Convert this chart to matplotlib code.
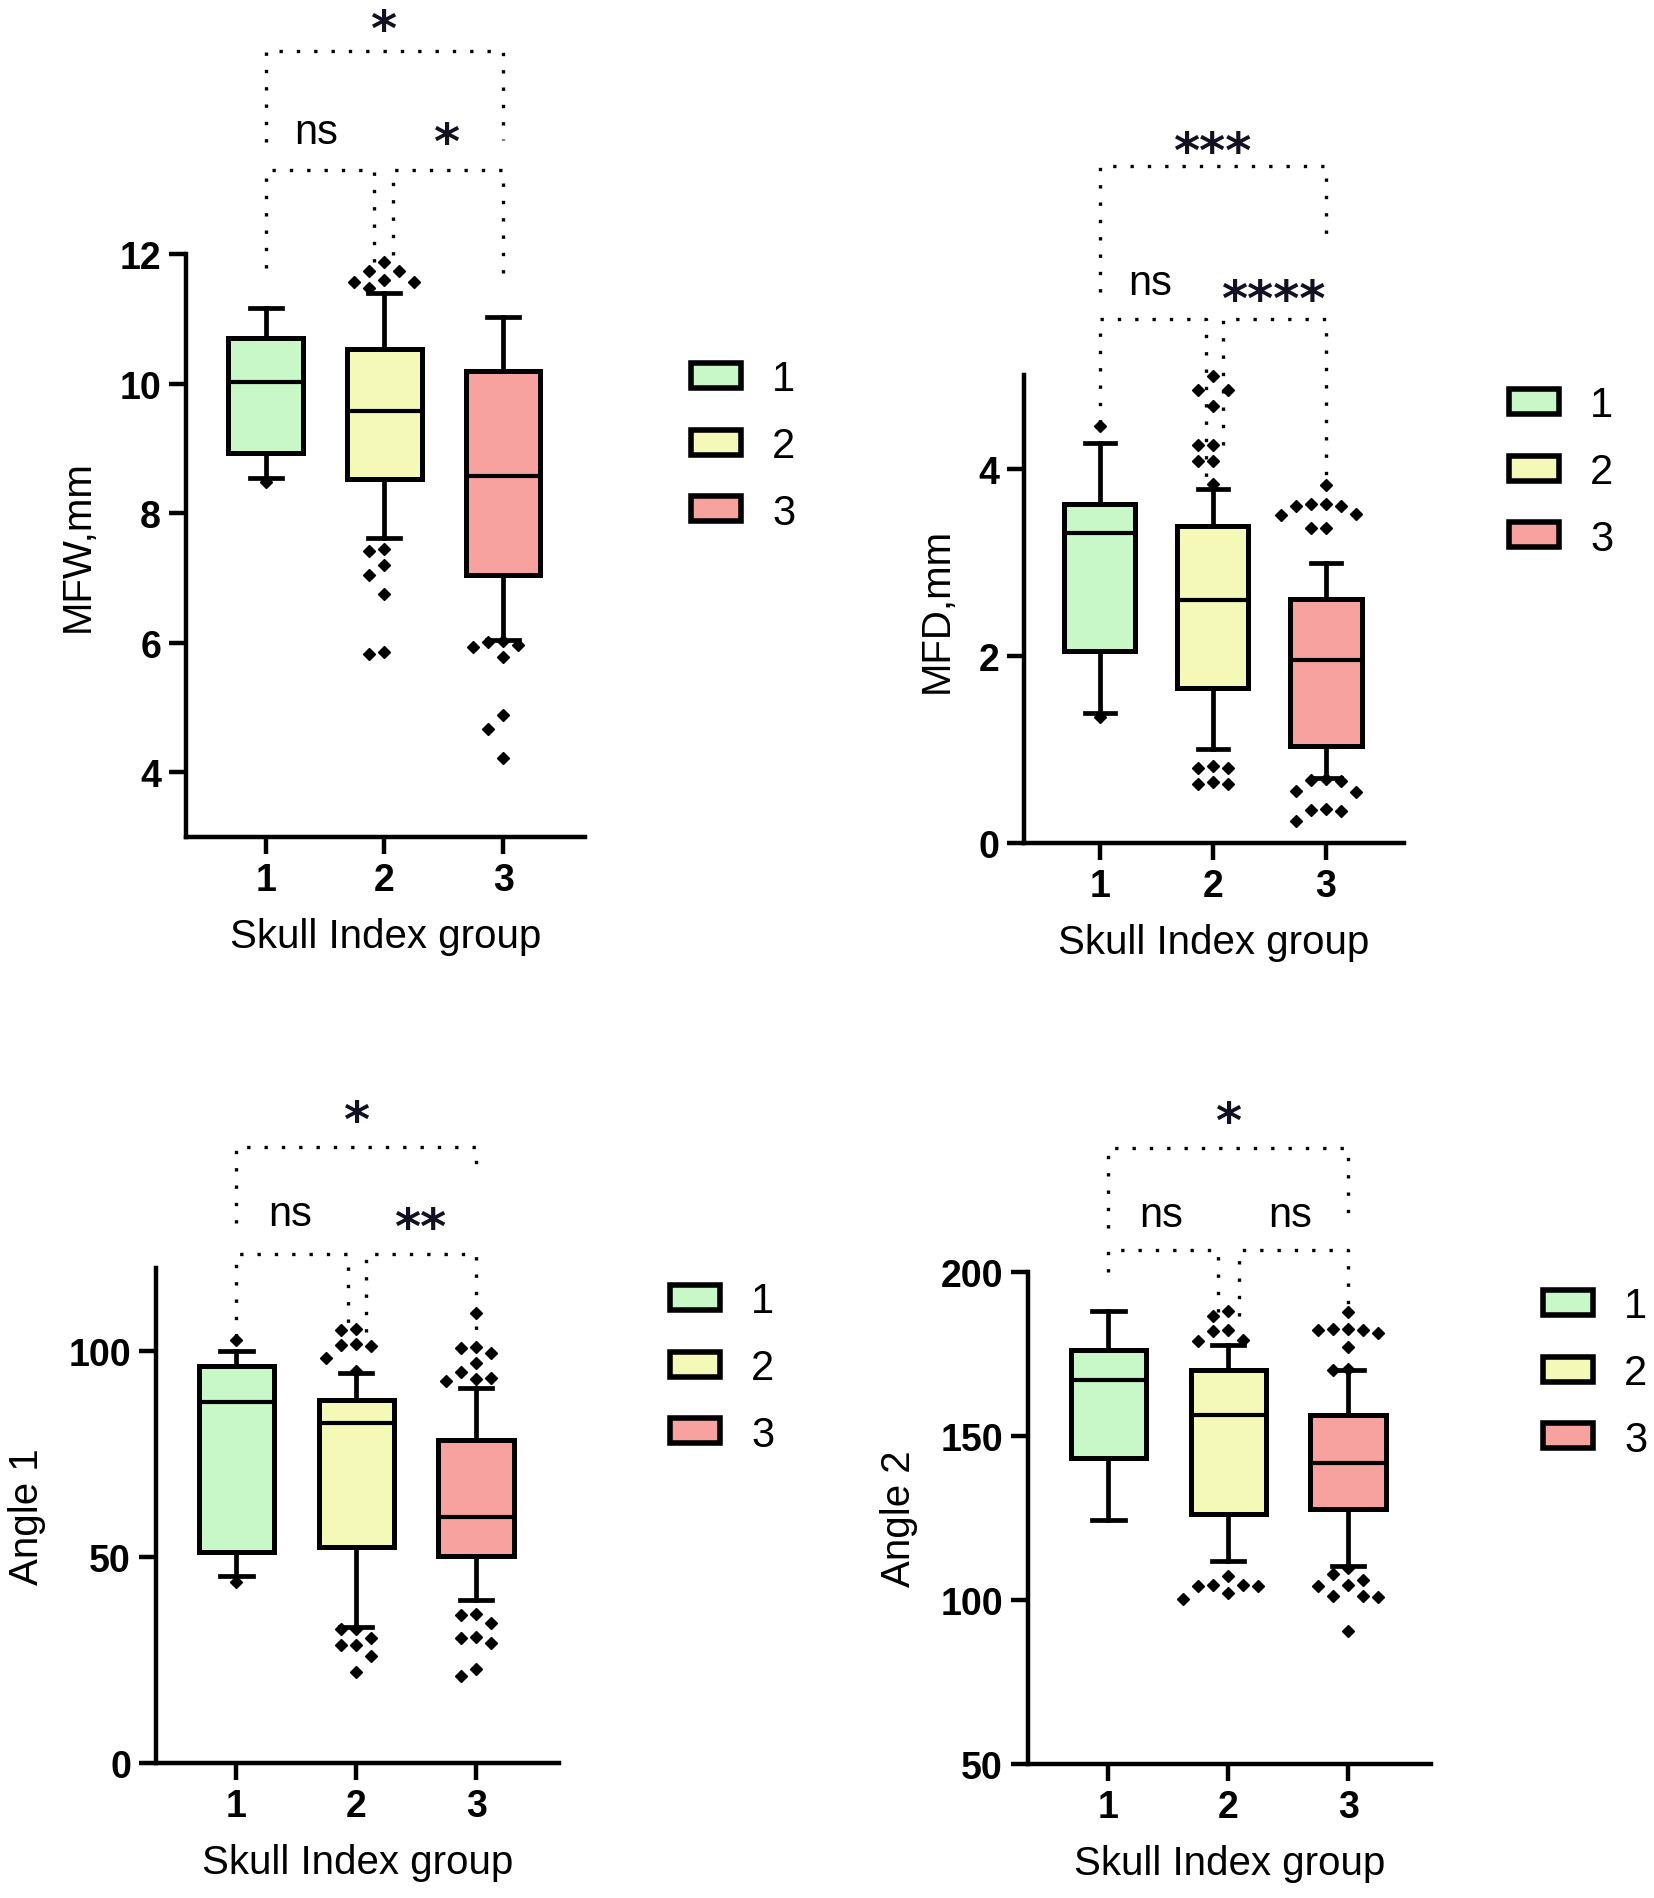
import matplotlib
matplotlib.use("Agg")
import matplotlib.pyplot as plt
from matplotlib.patches import Patch

plt.rcParams['font.family'] = ['Liberation Sans', 'DejaVu Sans']

groups = ["1", "2", "3"]
fills = ["#C8F7C8", "#F4F9B8", "#F8A2A0"]

# MFW panel
mfw_whislo = [8.54, 7.61, 6.04]
mfw_q1 = [8.93, 8.52, 7.05]
mfw_med = [10.03, 9.57, 8.57]
mfw_q3 = [10.71, 10.53, 10.2]
mfw_whishi = [11.16, 11.40, 11.03]
mfw_fliers = [
    [8.48],
    [11.48, 11.57, 11.57, 11.6, 11.73, 11.73, 11.87, 7.45, 7.42, 7.2, 7.05, 6.75, 5.85, 5.82],
    [6.03, 6.01, 5.97, 5.93, 5.78, 4.88, 4.66, 4.22],
]

# MFD panel
mfd_whislo = [1.39, 1.0, 0.69]
mfd_q1 = [2.05, 1.66, 1.04]
mfd_med = [3.31, 2.60, 1.96]
mfd_q3 = [3.62, 3.39, 2.61]
mfd_whishi = [4.27, 3.78, 2.99]
mfd_fliers = [
    [4.45, 1.35],
    [4.99, 4.84, 4.84, 4.67, 4.25, 4.25, 4.08, 4.08, 3.84, 0.82, 0.80, 0.80, 0.65, 0.63, 0.63],
    [3.82, 3.62, 3.62, 3.6, 3.6, 3.52, 3.5, 3.37, 3.37, 0.68, 0.67, 0.66, 0.56, 0.55, 0.36, 0.35, 0.34, 0.23],
]

# Angle 1 panel
a1_whislo = [45.4, 33.0, 39.6]
a1_q1 = [51.1, 52.4, 50.1]
a1_med = [87.5, 82.4, 59.7]
a1_q3 = [96.3, 88.1, 78.2]
a1_whishi = [100.0, 94.5, 90.8]
a1_fliers = [
    [102.6, 43.9],
    [105.3, 105.0, 101.5, 101.3, 101.0, 98.3, 95.0, 32.6, 32.4, 30.4, 28.7, 28.5, 26.0, 22.1],
    [109.2, 100.9, 100.5, 99.3, 97.0, 94.7, 93.4, 93.2, 92.7, 36.2, 35.9, 34.0, 30.6, 30.4, 29.1, 22.7, 21.1],
]

# Angle 2 panel
a2_whislo = [124.3, 112.0, 110.3]
a2_q1 = [143.2, 126.1, 127.7]
a2_med = [167.1, 156.5, 141.9]
a2_q3 = [176.2, 170.1, 156.5]
a2_whishi = [188.0, 177.6, 170.1]
a2_fliers = [
    [],
    [188.0, 186.7, 182.2, 182.0, 179.2, 179.0, 107.3, 104.5, 104.5, 104.4, 104.3, 102.0, 100.3],
    [187.9, 182.7, 182.5, 182.4, 182.2, 181.4, 177.1, 170.3, 170.2, 109.8, 107.8, 106.1, 104.5, 104.4,
     101.2, 101.1, 101.0, 90.4],
]

W, H = 1654, 1899


def swarm(vals, pxx, pxy, diam=15.0):
    # simple beeswarm: put each point at the nearest free horizontal slot
    placed = []
    offs = [0.0] * len(vals)
    order = sorted(range(len(vals)), key=lambda i: -vals[i])
    for i in order:
        y = vals[i] * pxy
        k = 0
        while True:
            cand = [0] if k == 0 else [-k, k]
            done = False
            for c in cand:
                x = c * diam
                if all((x - px) ** 2 + (y - py) ** 2 >= diam ** 2 for px, py in placed):
                    placed.append((x, y))
                    offs[i] = x / pxx
                    done = True
                    break
            if done:
                break
            k += 1
    return offs


def panel(rect_px, ylab, ylim, yticks, wlo, q1, med, q3, whi, fliers, brackets, labels, leg_px):
    l, t, r, b = rect_px
    ax = fig.add_axes([l / W, 1 - b / H, (r - l) / W, (b - t) / H])
    xlim = (0.33, 3.69)
    ax.set_xlim(*xlim)
    ax.set_ylim(*ylim)
    stats = []
    for i in range(3):
        stats.append(dict(med=med[i], q1=q1[i], q3=q3[i], whislo=wlo[i], whishi=whi[i], fliers=[]))
    bp = ax.bxp(stats, positions=[1, 2, 3], widths=0.63, capwidths=0.27, patch_artist=True,
                showfliers=False,
                boxprops=dict(linewidth=3.6, edgecolor='black'),
                whiskerprops=dict(linewidth=3.4, color='black'),
                capprops=dict(linewidth=3.4, color='black'),
                medianprops=dict(linewidth=3.0, color='black'))
    for patch, c in zip(bp['boxes'], fills):
        patch.set_facecolor(c)
    pxx = (r - l) / (xlim[1] - xlim[0])
    pxy = (b - t) / (ylim[1] - ylim[0])
    for i, fl in enumerate(fliers):
        if not fl:
            continue
        offs = swarm(fl, pxx, pxy)
        ax.plot([i + 1 + o for o in offs], fl, linestyle='none', marker='D', markersize=6.5,
                color='black', clip_on=False, zorder=4)

    for x1, x2, y, yl, yr in brackets:
        ax.plot([x1, x1, x2, x2], [yl, y, y, yr], color='black', linewidth=2.4,
                linestyle=(0, (1, 4.2)), clip_on=False)
    for txt, x, y in labels:
        if 'ns' in txt:
            ax.text(x, y, txt, ha='center', va='center', fontsize=30)
        else:
            ax.text(x, y, txt, ha='center', va='center', fontsize=36, fontweight='bold',
                    family='DejaVu Sans', color='#111122')

    ax.spines['top'].set_visible(False)
    ax.spines['right'].set_visible(False)
    ax.spines['left'].set_linewidth(3.2)
    ax.spines['bottom'].set_linewidth(3.2)
    ax.set_xticks([1, 2, 3])
    ax.set_xticklabels(groups)
    ax.set_yticks(yticks)
    ax.tick_params(axis='both', length=12, width=3.2, labelsize=27, pad=6)
    for lab in ax.get_xticklabels() + ax.get_yticklabels():
        lab.set_fontweight('bold')
    ax.set_ylabel(ylab, fontsize=29, labelpad=16)
    ax.set_xlabel("Skull Index group", fontsize=29, labelpad=14)

    handles = [Patch(facecolor=c, edgecolor='black', linewidth=4) for c in fills]
    lx, ly = leg_px
    ax.legend(handles, groups, loc='center left', bbox_to_anchor=(lx / W, 1 - ly / H),
              bbox_transform=fig.transFigure, frameon=False, fontsize=30,
              handlelength=1.2, handleheight=0.55, handletextpad=0.75, labelspacing=0.64,
              borderpad=0, borderaxespad=0)
    return ax


fig = plt.figure(figsize=(W / 100, H / 100), dpi=100)

panel((186, 255, 585, 838), "MFW,mm", (3, 12), [4, 6, 8, 10, 12],
      mfw_whislo, mfw_q1, mfw_med, mfw_q3, mfw_whishi, mfw_fliers,
      [(1.0, 3.0, 15.13, 13.73, 13.76), (1.0, 1.91, 13.29, 11.79, 11.79), (2.07, 3.0, 13.29, 11.98, 11.65)],
      [("*", 1.99, 15.45), ("ns", 1.43, 13.89), ("*", 2.52, 13.7)],
      (691, 447))

panel((1024, 376, 1404, 844), "MFD,mm", (0, 5), [0, 2, 4],
      mfd_whislo, mfd_q1, mfd_med, mfd_q3, mfd_whishi, mfd_fliers,
      [(1.0, 3.0, 7.23, 5.89, 6.49), (1.0, 1.94, 5.60, 4.49, 3.9), (2.09, 3.0, 5.60, 4.25, 3.9)],
      [("***", 1.99, 7.37), ("ns", 1.45, 5.98), ("****", 2.53, 5.79)],
      (1509, 473))

panel((156, 1269, 559, 1764), "Angle 1", (0, 120), [0, 50, 100],
      a1_whislo, a1_q1, a1_med, a1_q3, a1_whishi, a1_fliers,
      [(1.0, 3.0, 149.3, 131, 142.3), (1.0, 1.93, 123.4, 103.3, 106), (2.08, 3.0, 123.4, 104.6, 99.3)],
      [("*", 2.0, 155.5), ("ns", 1.45, 133), ("**", 2.53, 129.5)],
      (670, 1369))

panel((1028, 1273, 1431, 1765), "Angle 2", (50, 200), [50, 100, 150, 200],
      a2_whislo, a2_q1, a2_med, a2_q3, a2_whishi, a2_fliers,
      [(1.0, 3.0, 237.9, 213.3, 215), (1.0, 1.91, 206.6, 200, 186.7), (2.09, 3.0, 206.6, 186.7, 186.7)],
      [("*", 2.0, 245.5), ("ns", 1.44, 217.4), ("ns", 2.52, 217.4)],
      (1543, 1374))

fig.savefig("out.png", dpi=100)
